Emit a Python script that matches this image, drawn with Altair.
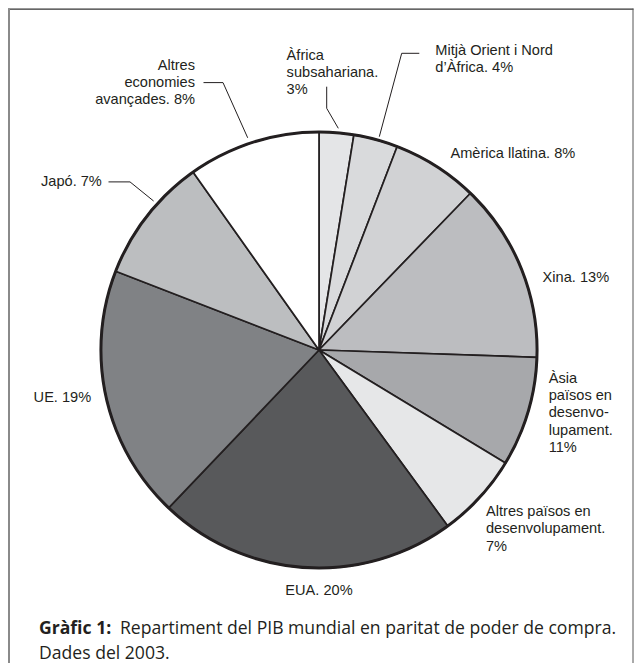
import altair as alt
import pandas as pd

# ---------------- data ----------------
regions = [
    "Àfrica subsahariana", "Mitjà Orient i Nord d'Àfrica", "Amèrica llatina",
    "Xina", "Àsia països en desenvolupament", "Altres països en desenvolupament",
    "EUA", "UE", "Japó", "Altres economies avançades",
]
# slice sizes as drawn in the picture (percent of the circle)
shares = [2.56, 3.28, 6.39, 13.31, 8.14, 6.28, 22.17, 18.78, 9.31, 9.81]
label_lines = [
    ["Àfrica", "subsahariana.", "3%"],
    ["Mitjà Orient i Nord", "d’Àfrica. 4%"],
    ["Amèrica llatina. 8%"],
    ["Xina. 13%"],
    ["Àsia", "països en", "desenvo-", "lupament.", "11%"],
    ["Altres països en", "desenvolupament.", "7%"],
    ["EUA. 20%"],
    ["UE. 19%"],
    ["Japó. 7%"],
    ["Altres", "economies", "avançades. 8%"],
]
caption_bold = "Gràfic 1:"
caption_rest = "Repartiment del PIB mundial en paritat de poder de compra."
caption_line2 = "Dades del 2003."

# ---------------- styles / layout ----------------
colors = ["#e4e5e7", "#d9dadc", "#d1d2d4", "#bcbdc0", "#a7a8ab",
          "#e6e7e8", "#58595b", "#808285", "#bcbec0", "#ffffff"]
W, H = 626, 655
CX, CY, R = 311, 342, 218
INK = "#231f20"
LFONT = "Liberation Sans, Arial, sans-serif"
LSIZE = 14.6
LSTEP = 17.3
CFONT = "Open Sans"
CSIZE = 17.6

# label anchor (x, first-line y, align)
label_pos = [
    (278.6, 47.6, "left"),
    (427.3, 42.5, "left"),
    (442.4, 146.0, "left"),
    (534.6, 270.0, "left"),
    (540.7, 370.7, "left"),
    (478.0, 504.0, "left"),
    (311.0, 582.5, "center"),
    (25.6, 390.0, "left"),
    (33.0, 174.0, "left"),
    (187.0, 57.5, "right"),
]
# leader polylines
leaders = [
    [(318.7, 78.7), (318.7, 100.3), (330.3, 120.3)],
    [(411.3, 45.3), (393.7, 45.3), (371.3, 128.7)],
    [(100.5, 173.9), (122.0, 173.9), (145.6, 193.0)],
    [(195.5, 74.6), (215.0, 74.6), (239.7, 129.8)],
]

xs = alt.Scale(domain=[0, W], range=[0, W])
ys = alt.Scale(domain=[0, H], range=[0, H])

pie_df = pd.DataFrame({"region": regions, "share": shares, "order": list(range(len(regions)))})

pie = alt.Chart(pie_df).mark_arc(
    outerRadius=R, stroke=INK, strokeWidth=1.7, strokeJoin="round"
).encode(
    theta=alt.Theta("share:Q", stack=True),
    order=alt.Order("order:Q"),
    color=alt.Color("region:N", scale=alt.Scale(domain=regions, range=colors), legend=None),
    x=alt.value(CX), y=alt.value(CY),
)

dummy = pd.DataFrame({"k": [0]})
ring = alt.Chart(dummy).mark_arc(
    outerRadius=R, theta=0, theta2=6.2832, fill="transparent", stroke=INK, strokeWidth=3
).encode(x=alt.value(CX), y=alt.value(CY))

seg_rows = []
for poly in leaders:
    for (x1, y1), (x2, y2) in zip(poly[:-1], poly[1:]):
        seg_rows.append({"x": x1, "y": y1, "x2": x2, "y2": y2})
seg_df = pd.DataFrame(seg_rows)
lead = alt.Chart(seg_df).mark_rule(color=INK, strokeWidth=1).encode(
    x=alt.X("x:Q", scale=xs, axis=None), y=alt.Y("y:Q", scale=ys, axis=None),
    x2="x2:Q", y2="y2:Q",
)

rows = []
for lines, (lx, ly, al) in zip(label_lines, label_pos):
    for i, t in enumerate(lines):
        rows.append({"t": t, "x": lx, "y": ly + i * LSTEP, "al": al})
lab_df = pd.DataFrame(rows)

def text_layer(al):
    return alt.Chart(lab_df).transform_filter(alt.datum.al == al).mark_text(
        align=al, baseline="middle", font=LFONT, fontSize=LSIZE, color=INK
    ).encode(
        x=alt.X("x:Q", scale=xs, axis=None), y=alt.Y("y:Q", scale=ys, axis=None), text="t:N"
    )

cap1 = alt.Chart(dummy).mark_text(
    align="left", baseline="middle", font=CFONT, fontSize=CSIZE, fontWeight="bold", color=INK
).encode(x=alt.value(31), y=alt.value(621), text=alt.value(caption_bold))
cap2 = alt.Chart(dummy).mark_text(
    align="left", baseline="middle", font=CFONT, fontSize=CSIZE, color=INK
).encode(x=alt.value(112), y=alt.value(621), text=alt.value(caption_rest))
cap3 = alt.Chart(dummy).mark_text(
    align="left", baseline="middle", font=CFONT, fontSize=CSIZE, color=INK
).encode(x=alt.value(31), y=alt.value(645.5), text=alt.value(caption_line2))

frame_top = alt.Chart(dummy).mark_rule(color="#333333", strokeWidth=1.2).encode(
    x=alt.value(0), x2=alt.value(625.5), y=alt.value(1.2), y2=alt.value(1.2))
frame_left = alt.Chart(dummy).mark_rule(color="#8a8a8a", strokeWidth=2).encode(
    x=alt.value(1), x2=alt.value(1), y=alt.value(0.6), y2=alt.value(H))
frame_right = alt.Chart(dummy).mark_rule(color="#555555", strokeWidth=1).encode(
    x=alt.value(625), x2=alt.value(625), y=alt.value(0.6), y2=alt.value(H))

chart = alt.layer(
    pie, ring, lead,
    text_layer("left"), text_layer("right"), text_layer("center"),
    cap1, cap2, cap3, frame_top, frame_left, frame_right,
).properties(
    width=W, height=H, padding=0, autosize=alt.AutoSizeParams(type="none"),
    background="#ffffff",
).configure_view(stroke=None)

chart.save("out.html", embed_options={"renderer": "svg", "actions": False})
